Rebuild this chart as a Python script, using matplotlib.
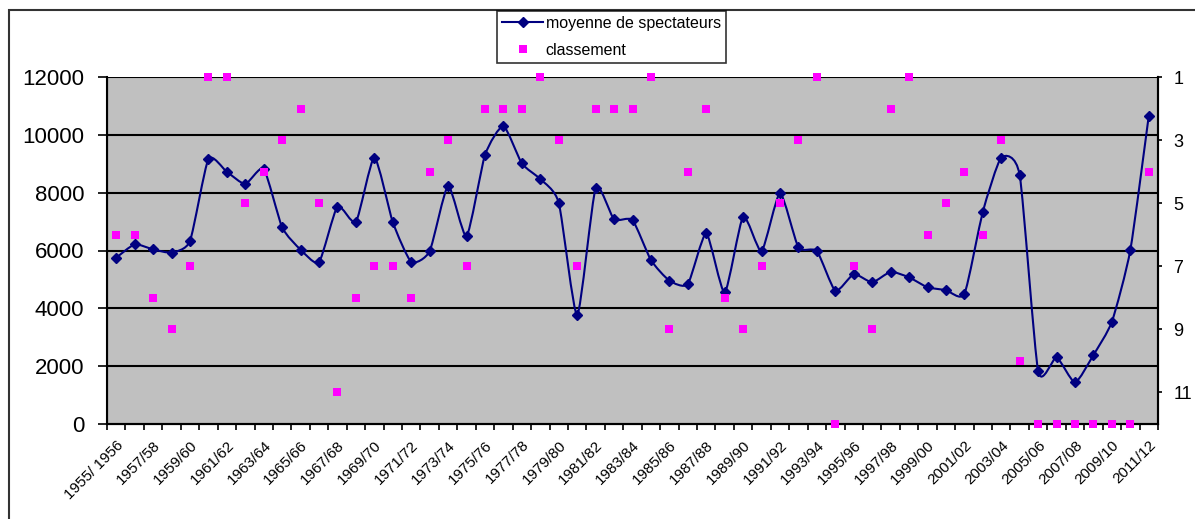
import matplotlib.pyplot as plt
from matplotlib.path import Path
from matplotlib.patches import PathPatch, Rectangle
from matplotlib.lines import Line2D

plt.rcParams['font.family'] = ['Liberation Sans', 'DejaVu Sans']

# Saisons 1955/56 -> 2011/12 (57 saisons), une etiquette sur deux
tick_labels = ['1955/ 1956', '1957/58', '1959/60', '1961/62', '1963/64', '1965/66',
               '1967/68', '1969/70', '1971/72', '1973/74', '1975/76', '1977/78',
               '1979/80', '1981/82', '1983/84', '1985/86', '1987/88', '1989/90',
               '1991/92', '1993/94', '1995/96', '1997/98', '1999/00', '2001/02',
               '2003/04', '2005/06', '2007/08', '2009/10', '2011/12']

spectateurs = [5750, 6210, 6040, 5930, 6330, 9160, 8720, 8300, 8820, 6800,
               6030, 5600, 7520, 6990, 9210, 6980, 5610, 5980, 8230, 6500,
               9300, 10300, 9010, 8470, 7650, 3770, 8150, 7080, 7050, 5670,
               4960, 4840, 6590, 4550, 7170, 5980, 7980, 6110, 5980, 4610,
               5180, 4900, 5260, 5070, 4730, 4630, 4500, 7340, 9210, 8600,
               1830, 2300, 1440, 2390, 3540, 6020, 10660]

classement = [6, 6, 8, 9, 7, 1, 1, 5, 4, 3,
              2, 5, 11, 8, 7, 7, 8, 4, 3, 7,
              2, 2, 2, 1, 3, 7, 2, 2, 2, 1,
              9, 4, 2, 8, 9, 7, 5, 3, 1, 12,
              7, 9, 2, 1, 6, 5, 4, 6, 3, 10,
              12, 12, 12, 12, 12, 12, 4]

x = list(range(len(spectateurs)))

fig = plt.figure(figsize=(11.95, 5.19), dpi=100)
ax = fig.add_axes([107/1195, 1 - 424/519, (1158 - 107)/1195, (424 - 77)/519])
ax.set_facecolor('#C0C0C0')

# courbe lissee facon Excel (Bezier entre les points)
k = 1 / 10
verts = [(x[0], spectateurs[0])]
codes = [Path.MOVETO]
n = len(x)
for i in range(n - 1):
    p0 = (x[max(i - 1, 0)], spectateurs[max(i - 1, 0)])
    p1 = (x[i], spectateurs[i])
    p2 = (x[i + 1], spectateurs[i + 1])
    p3 = (x[min(i + 2, n - 1)], spectateurs[min(i + 2, n - 1)])
    c1 = (p1[0] + (p2[0] - p0[0]) * k, p1[1] + (p2[1] - p0[1]) * k)
    c2 = (p2[0] - (p3[0] - p1[0]) * k, p2[1] - (p3[1] - p1[1]) * k)
    verts += [c1, c2, p2]
    codes += [Path.CURVE4] * 3
ax.add_patch(PathPatch(Path(verts, codes), facecolor='none', edgecolor='#000080',
                       lw=1.5, zorder=3))
ax.plot(x, spectateurs, linestyle='none', marker='D', markersize=5.5,
        color='#000080', zorder=4)

ax.set_xlim(-0.5, len(x) - 0.5)
ax.set_ylim(0, 12000)
ax.set_yticks(range(0, 12001, 2000))
ax.yaxis.grid(True, color='black', lw=1.5)
ax.set_axisbelow(True)
ax.tick_params(axis='y', labelsize=16, length=6.5, width=1.2, direction='out', pad=10)

ax.set_xticks(range(0, len(x), 2))
ax.set_xticklabels(tick_labels, rotation=45, ha='right', va='top',
                   rotation_mode='anchor', fontsize=11)
ax.set_xticks([i - 0.5 for i in range(len(x) + 1)], minor=True)
ax.tick_params(axis='x', which='major', length=0, pad=10)
ax.tick_params(axis='x', which='minor', length=4, width=1.2, direction='out')

ax.spines['top'].set_visible(False)
for s in ['left', 'right', 'bottom']:
    ax.spines[s].set_linewidth(1.5)

ax2 = ax.twinx()
ax2.scatter(x, classement, marker='s', s=40, color='#FF00FF', zorder=5,
            clip_on=False, linewidths=0)
ax2.set_ylim(12, 1)
ax2.set_yticks([1, 3, 5, 7, 9, 11])
ax2.tick_params(axis='y', labelsize=13, length=3, width=1.2, direction='out', pad=8)
ax2.spines['top'].set_visible(False)
ax2.spines['right'].set_linewidth(1.5)

# cadre exterieur du graphique
fig.patches.append(Rectangle((9/1195, -0.1), 1.2, 1.1 - 10/519, transform=fig.transFigure,
                             fill=False, edgecolor='#333333', lw=1.5))

handles = [Line2D([], [], color='#000080', lw=1.5, marker='D', markersize=5),
           Line2D([], [], linestyle='none', marker='s', markersize=6,
                  color='#FF00FF', markeredgewidth=0)]
leg = fig.legend(handles, ['moyenne de spectateurs', 'classement'],
                 loc='upper left', bbox_to_anchor=(497/1195, 1 - 11/519),
                 fontsize=11.5, frameon=True, fancybox=False, handlelength=2.6,
                 borderpad=0.3, labelspacing=0.75, handletextpad=0.15,
                 borderaxespad=0)
leg.get_frame().set_edgecolor('black')
leg.get_frame().set_linewidth(1.2)

fig.savefig('out.png', dpi=100)
